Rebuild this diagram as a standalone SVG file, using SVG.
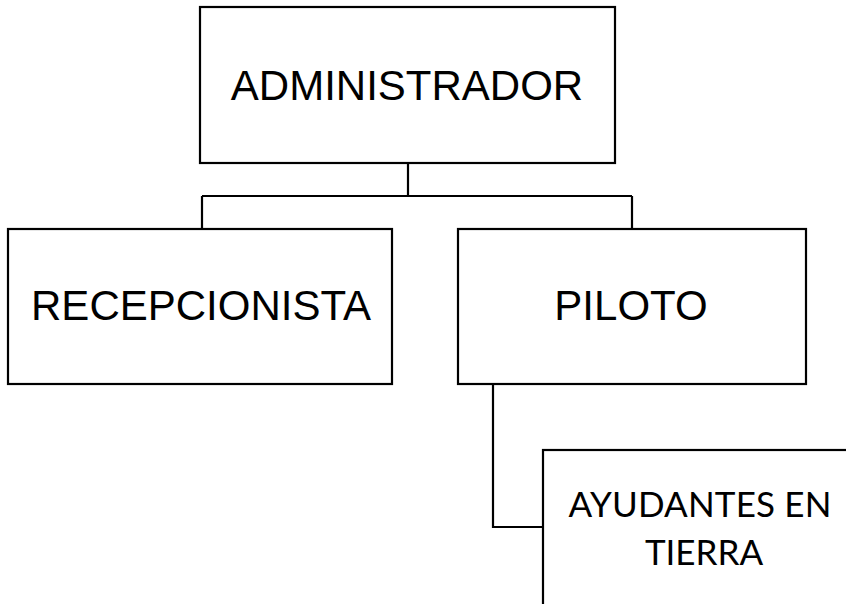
<svg xmlns="http://www.w3.org/2000/svg" width="846" height="604" viewBox="0 0 846 604">
<style>
.box{fill:#fff;stroke:#000;stroke-width:2.2}
.ln{fill:none;stroke:#000;stroke-width:2.2}
.a{font-family:"Liberation Sans",Arial,sans-serif;font-size:42px;fill:#000;text-anchor:middle}
.c{font-family:Lato,"Open Sans",sans-serif;font-size:35px;fill:#000;text-anchor:middle}
</style>
<rect width="846" height="604" fill="#fff"/>
<g id="connectors">
<path class="ln" d="M408,163 V196 M202,196 H632 M202,196 V229 M632,196 V229"/>
<path class="ln" d="M493,384 V527 H543"/>
</g>
<g id="admin">
<rect class="box" x="200" y="7" width="415" height="156"/>
<text class="a" x="407" y="100">ADMINISTRADOR</text>
</g>
<g id="recepcionista">
<rect class="box" x="8" y="229" width="384" height="155"/>
<text class="a" x="201" y="320">RECEPCIONISTA</text>
</g>
<g id="piloto">
<rect class="box" x="458" y="229" width="348" height="155"/>
<text class="a" x="631" y="320">PILOTO</text>
</g>
<g id="ayudantes">
<rect class="box" x="543" y="450" width="320" height="170"/>
<text class="c" x="700" y="517" textLength="263">AYUDANTES EN</text>
<text class="c" x="704" y="565">TIERRA</text>
</g>
</svg>
